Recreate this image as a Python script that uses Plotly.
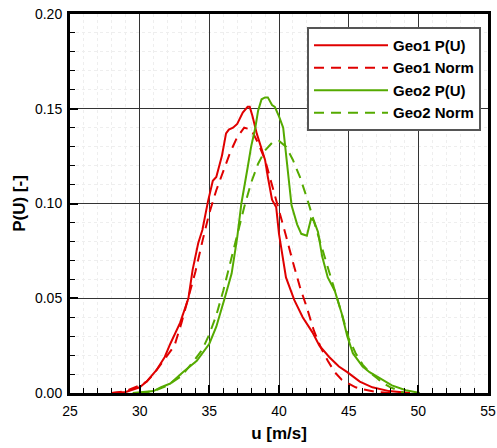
import plotly.graph_objects as go

# Geo1 P(U) (red solid)
geo1_u = [28.0, 29.0, 30.0, 30.5, 31.2, 31.8, 32.2, 32.9, 33.5, 33.8, 34.2, 34.5, 34.9, 35.25,
          35.5, 35.9, 36.2, 36.4, 36.7, 37.0, 37.4, 37.75, 37.9, 38.1, 38.4, 38.6, 39.0, 39.2,
          39.5, 39.8, 40.0, 40.5, 41.1, 41.7, 42.4, 42.9, 43.6, 44.3, 44.9, 45.8, 46.7, 47.9, 49.4]
geo1_p = [0.000, 0.0005, 0.003, 0.006, 0.012, 0.019, 0.026, 0.037, 0.050, 0.065, 0.079, 0.086, 0.101, 0.112,
          0.114, 0.125, 0.137, 0.139, 0.140, 0.142, 0.148, 0.151, 0.151, 0.146, 0.137, 0.132, 0.123, 0.114,
          0.102, 0.098, 0.084, 0.061, 0.049, 0.040, 0.032, 0.025, 0.019, 0.014, 0.011, 0.006, 0.003, 0.001, 0.000]

# Geo1 Norm (red dashed)
geo1n_u = [28.0, 29.0, 30.0, 30.5, 31.0, 31.5, 32.0, 32.5, 33.0, 33.5, 34.0, 34.5, 35.0, 35.5, 36.0,
           36.5, 37.0, 37.5, 38.0, 38.5, 39.0, 39.5, 40.0, 40.5, 41.0, 41.5, 42.0, 42.5, 43.0, 43.5,
           44.0, 44.5, 45.0, 45.5, 46.0, 47.0, 48.0]
geo1n_p = [0.000, 0.001, 0.004, 0.006, 0.010, 0.015, 0.020, 0.025, 0.037, 0.050, 0.064, 0.080, 0.095, 0.107, 0.117,
           0.127, 0.135, 0.140, 0.139, 0.132, 0.123, 0.110, 0.097, 0.083, 0.069, 0.056, 0.045, 0.033, 0.024, 0.017,
           0.011, 0.007, 0.005, 0.003, 0.002, 0.0005, 0.000]

# Geo2 P(U) (green solid)
geo2_u = [29.5, 30.5, 31.0, 31.5, 32.2, 33.1, 34.1, 35.0, 35.5, 36.1, 36.6, 37.0, 37.3, 37.75, 38.0,
          38.3, 38.5, 38.75, 39.0, 39.2, 39.5, 39.7, 40.0, 40.3, 40.5, 40.7, 40.9, 41.3, 41.6, 42.0,
          42.3, 42.5, 42.8, 43.1, 43.5, 44.0, 44.5, 44.9, 45.3, 46.0, 46.5, 47.2, 48.1, 49.1, 50.1]
geo2_p = [0.000, 0.0005, 0.001, 0.003, 0.005, 0.011, 0.017, 0.026, 0.035, 0.050, 0.063, 0.082, 0.100, 0.119, 0.130,
          0.140, 0.149, 0.155, 0.156, 0.156, 0.152, 0.151, 0.146, 0.140, 0.127, 0.113, 0.099, 0.089, 0.084, 0.083,
          0.092, 0.091, 0.085, 0.072, 0.061, 0.054, 0.042, 0.030, 0.021, 0.014, 0.011, 0.008, 0.004, 0.0015, 0.000]

# Geo2 Norm (green dashed)
geo2n_u = [30.0, 31.0, 32.0, 33.0, 34.0, 34.5, 35.0, 35.5, 36.0, 36.5, 37.0, 37.5, 38.0, 38.5, 39.0,
           39.5, 40.0, 40.5, 41.0, 41.5, 42.0, 42.5, 43.0, 43.5, 44.0, 44.5, 45.0, 45.5, 46.0, 46.5,
           47.0, 47.5, 48.0, 48.5, 49.0]
geo2n_p = [0.000, 0.001, 0.004, 0.009, 0.018, 0.023, 0.031, 0.041, 0.054, 0.069, 0.083, 0.098, 0.111, 0.121, 0.128,
           0.132, 0.133, 0.130, 0.123, 0.114, 0.103, 0.091, 0.078, 0.066, 0.054, 0.042, 0.029, 0.021, 0.015, 0.011,
           0.008, 0.005, 0.003, 0.0015, 0.000]

RED = "#e00000"
GREEN = "#55aa00"
FONT = "Liberation Sans, Arial, Helvetica, sans-serif"

fig = go.Figure()
fig.add_trace(go.Scatter(x=geo1_u, y=geo1_p, mode="lines", name="Geo1 P(U)",
                         line=dict(color=RED, width=2)))
fig.add_trace(go.Scatter(x=geo1n_u, y=geo1n_p, mode="lines", name="Geo1 Norm",
                         line=dict(color=RED, width=2, dash="10px,7px")))
fig.add_trace(go.Scatter(x=geo2_u, y=geo2_p, mode="lines", name="Geo2 P(U)",
                         line=dict(color=GREEN, width=2)))
fig.add_trace(go.Scatter(x=geo2n_u, y=geo2n_p, mode="lines", name="Geo2 Norm",
                         line=dict(color=GREEN, width=2, dash="10px,7px")))

fig.update_layout(
    width=497, height=448,
    margin=dict(l=70, r=9, t=14, b=55),
    paper_bgcolor="white", plot_bgcolor="white",
    font=dict(family=FONT, size=14, color="black"),
    showlegend=True,
    legend=dict(
        x=0.567, y=0.966, xanchor="left", yanchor="top",
        bgcolor="white", bordercolor="#555555", borderwidth=2,
        font=dict(family=FONT, size=15, color="black", weight="bold"),
        tracegroupgap=0, itemwidth=74,
    ),
    xaxis=dict(
        range=[25, 55], dtick=5, tick0=25, automargin=False,
        showline=True, linecolor="black", linewidth=3, mirror=True,
        ticks="inside", ticklen=8, tickwidth=2, tickcolor="black",
        showgrid=True, gridcolor="#333333", gridwidth=1,
        zeroline=False, ticklabelstandoff=3,
        minor=dict(dtick=1, ticks="inside", ticklen=5, tickwidth=1, tickcolor="black",
                   showgrid=True, gridcolor="#eeeeee", griddash="dot", gridwidth=1),
        tickfont=dict(size=14),
        title=dict(text="u [m/s]", font=dict(size=17, weight="bold"), standoff=10),
    ),
    yaxis=dict(
        range=[0, 0.2], dtick=0.05, tick0=0, tickformat=".2f", automargin=False,
        showline=True, linecolor="black", linewidth=3, mirror=True,
        ticks="inside", ticklen=8, tickwidth=2, tickcolor="black",
        showgrid=True, gridcolor="#333333", gridwidth=1,
        zeroline=False, ticklabelstandoff=2,
        minor=dict(dtick=0.01, ticks="inside", ticklen=5, tickwidth=1, tickcolor="black",
                   showgrid=True, gridcolor="#eeeeee", griddash="dot", gridwidth=1),
        tickfont=dict(size=14),
        title=dict(text="P(U) [-]", font=dict(size=17, weight="bold"), standoff=6),
    ),
)

fig.write_html("out.html", config={"displayModeBar": False},
               post_script="document.body.style.margin='0';document.body.style.overflow='hidden';")
